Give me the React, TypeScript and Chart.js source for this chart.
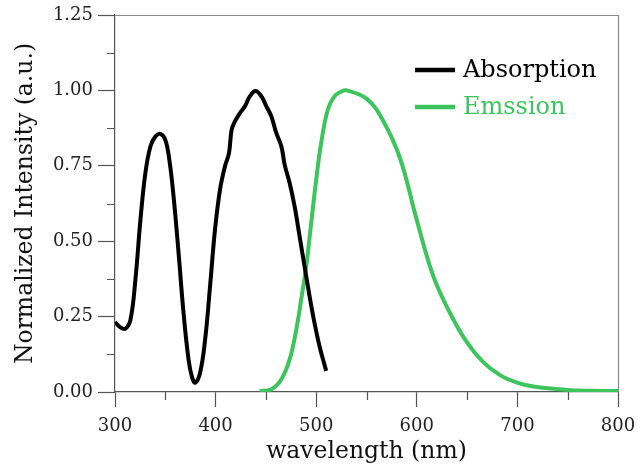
import React, { useEffect, useRef } from "react";
import { Chart, registerables } from "chart.js";

Chart.register(...registerables);

// Absorption spectrum (wavelength nm, normalized intensity)
const absWavelength = [300, 305, 310.4, 315.4, 320.3, 325.3, 330.2, 335.2, 340.1, 345.1, 350, 354, 358.2, 363.2, 368.1, 373.1, 376.5, 379.7, 384.6, 389.6, 394.5, 399.4, 404.4, 409.3, 413.3, 415.9, 419.2, 424.2, 429.1, 434, 439.7, 445.6, 450.5, 455.5, 460.4, 465.4, 468.7, 473.6, 478.5, 483.5, 488.4, 493.4, 498.3, 503.3, 509.9];
const absIntensity = [0.232, 0.215, 0.21, 0.24, 0.373, 0.571, 0.726, 0.814, 0.847, 0.856, 0.836, 0.77, 0.649, 0.461, 0.263, 0.108, 0.05, 0.031, 0.064, 0.174, 0.351, 0.538, 0.671, 0.748, 0.792, 0.869, 0.897, 0.925, 0.947, 0.98, 0.998, 0.98, 0.947, 0.913, 0.858, 0.814, 0.753, 0.693, 0.616, 0.516, 0.417, 0.318, 0.229, 0.152, 0.07];

// Emission spectrum
const emWavelength = [443.9, 455.5, 465.4, 473.6, 480.2, 485.1, 490.1, 495, 500, 504.9, 511.5, 518.1, 524.7, 530.5, 550.3, 566.4, 583.3, 600, 616.3, 633, 649.7, 666, 682.7, 699.6, 716, 749, 775, 800];
const emIntensity = [0.003, 0.009, 0.042, 0.108, 0.207, 0.307, 0.417, 0.56, 0.704, 0.825, 0.936, 0.98, 0.996, 1.0, 0.972, 0.9, 0.775, 0.57, 0.385, 0.262, 0.165, 0.099, 0.056, 0.031, 0.018, 0.007, 0.004, 0.003];

const seriesNames = ["Absorption", "Emssion"];
const seriesColors = ["#000000", "#3cc55c"];

const xTickStep = 100;
const yTickStep = 0.25;

const FONT = "'DejaVu Serif', serif";

const frameAndLegend = {
  id: "frameAndLegend",
  afterDraw(chart: any) {
    const { ctx, chartArea, scales } = chart;
    const { left, right, top, bottom } = chartArea;
    ctx.save();
    // top and right frame
    ctx.strokeStyle = "#8a8a8a";
    ctx.lineWidth = 1.2;
    ctx.beginPath();
    ctx.moveTo(left, top + 0.5);
    ctx.lineTo(right + 0.5, top + 0.5);
    ctx.lineTo(right + 0.5, bottom);
    ctx.stroke();
    // minor ticks
    ctx.strokeStyle = "#555";
    ctx.lineWidth = 1.2;
    const xs = scales.x;
    const ys = scales.y;
    ctx.beginPath();
    for (let v = xs.min + xTickStep / 2; v < xs.max; v += xTickStep) {
      const px = Math.round(xs.getPixelForValue(v)) + 0.5;
      ctx.moveTo(px, bottom);
      ctx.lineTo(px, bottom + 8);
    }
    for (let v = ys.min + yTickStep / 2; v < ys.max; v += yTickStep) {
      const py = Math.round(ys.getPixelForValue(v)) + 0.5;
      ctx.moveTo(left - 8, py);
      ctx.lineTo(left, py);
    }
    ctx.stroke();
    // legend
    const lx = left + 300;
    const ly = [top + 55, top + 92];
    ctx.font = `24px ${FONT}`;
    ctx.textBaseline = "middle";
    ctx.textAlign = "left";
    seriesNames.forEach((name, i) => {
      ctx.strokeStyle = seriesColors[i];
      ctx.lineWidth = 4.5;
      ctx.beginPath();
      ctx.moveTo(lx, ly[i]);
      ctx.lineTo(lx + 40, ly[i]);
      ctx.stroke();
      ctx.fillStyle = seriesColors[i];
      ctx.fillText(name, lx + 48, ly[i] + 1);
    });
    ctx.restore();
  },
};

export default function App() {
  const canvasRef = useRef<HTMLCanvasElement | null>(null);

  useEffect(() => {
    document.body.style.margin = "0";
    const canvas = canvasRef.current;
    if (!canvas) return;
    const chart = new Chart(canvas, {
      type: "line",
      data: {
        datasets: [
          {
            label: seriesNames[0],
            data: absWavelength.map((x, i) => ({ x, y: absIntensity[i] })),
            borderColor: seriesColors[0],
            borderWidth: 4,
            pointRadius: 0,
            tension: 0.4,
            fill: false,
          },
          {
            label: seriesNames[1],
            data: emWavelength.map((x, i) => ({ x, y: emIntensity[i] })),
            borderColor: seriesColors[1],
            borderWidth: 4,
            pointRadius: 0,
            tension: 0.4,
            fill: false,
          },
        ],
      },
      options: {
        responsive: false,
        animation: false,
        devicePixelRatio: 1,
        layout: { padding: { top: 15, right: 20, left: 0, bottom: 0 } },
        plugins: {
          legend: { display: false },
          tooltip: { enabled: false },
        },
        scales: {
          x: {
            type: "linear",
            min: 300,
            max: 800,
            afterFit: (s: any) => {
              s.height = 79;
              s.paddingLeft = 0;
              s.paddingRight = 0;
            },
            ticks: {
              stepSize: xTickStep,
              color: "#222",
              font: { family: FONT, size: 18 },
              padding: 9,
              maxRotation: 0,
              callback: (v: any) => String(v),
            },
            grid: {
              drawOnChartArea: false,
              drawTicks: true,
              tickLength: 15,
              tickColor: "#555",
              tickWidth: 1.2,
            },
            border: { display: true, color: "#555", width: 1.2 },
            title: {
              display: true,
              text: "wavelength (nm)",
              color: "#111",
              font: { family: FONT, size: 23.5 },
              padding: { top: 0, bottom: 5 },
            },
          },
          y: {
            type: "linear",
            min: 0,
            max: 1.25,
            afterFit: (s: any) => {
              s.width = 115;
              s.paddingTop = 0;
              s.paddingBottom = 0;
            },
            ticks: {
              stepSize: yTickStep,
              color: "#222",
              font: { family: FONT, size: 18 },
              padding: 5,
              callback: (v: any) => Number(v).toFixed(2),
            },
            grid: {
              drawOnChartArea: false,
              drawTicks: true,
              tickLength: 17,
              tickColor: "#555",
              tickWidth: 1.2,
            },
            border: { display: true, color: "#555", width: 1.2 },
            title: {
              display: true,
              text: "Normalized Intensity (a.u.)",
              color: "#111",
              font: { family: FONT, size: 23.5 },
              padding: { top: 12, bottom: 0 },
            },
          },
        },
      },
      plugins: [frameAndLegend],
    });
    return () => chart.destroy();
  }, []);

  return (
    <div style={{ width: 638, height: 471, background: "#fff" }}>
      <canvas ref={canvasRef} width={638} height={471} />
    </div>
  );
}
